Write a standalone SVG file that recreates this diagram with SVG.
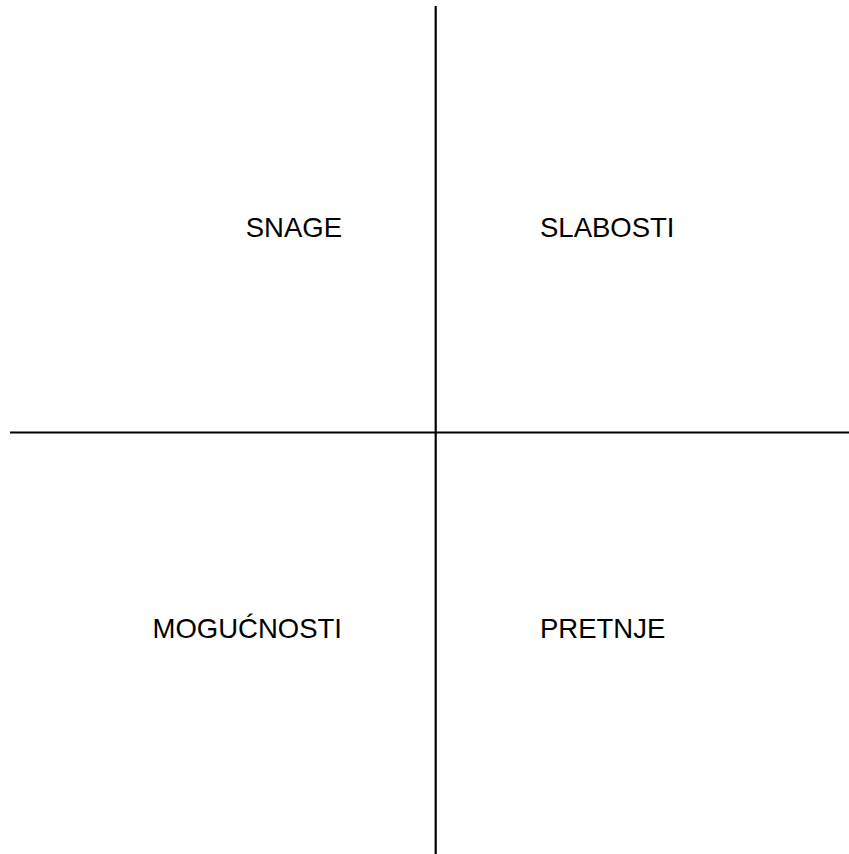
<svg xmlns="http://www.w3.org/2000/svg" width="849" height="854" viewBox="0 0 849 854">
<style>
.ax{stroke:#000;stroke-width:2.2;fill:none}
.lb{font-family:"Liberation Sans",Arial,sans-serif;font-size:27.5px;fill:#000}
</style>
<rect width="849" height="854" fill="#fff"/>
<g id="connectors">
<line class="ax" x1="435.7" y1="6" x2="435.7" y2="854"/>
<line class="ax" x1="10" y1="432.5" x2="849" y2="432.5"/>
</g>
<g id="snage"><text class="lb" x="342" y="237" text-anchor="end">SNAGE</text></g>
<g id="slabosti"><text class="lb" x="540" y="237">SLABOSTI</text></g>
<g id="mogucnosti"><text class="lb" x="342" y="638" text-anchor="end">MOGUĆNOSTI</text></g>
<g id="pretnje"><text class="lb" x="540" y="638">PRETNJE</text></g>
</svg>
